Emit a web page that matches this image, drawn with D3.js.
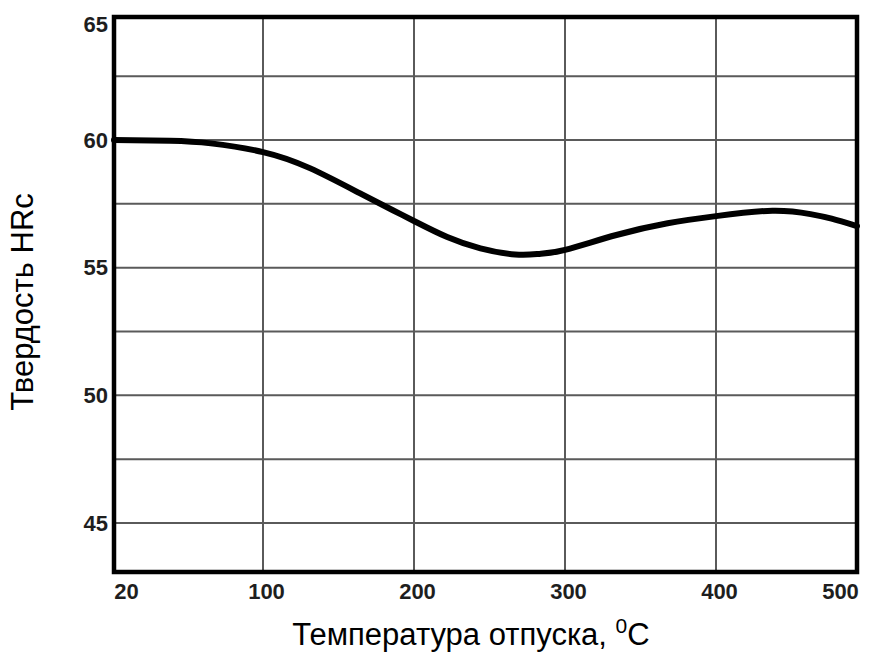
<!DOCTYPE html>
<html>
<head>
<meta charset="utf-8">
<script src="https://cdn.jsdelivr.net/npm/d3@7"></script>
<style>
  body { margin: 0; background: #fff; }
  .tick text { font-family: "Liberation Sans", Arial, sans-serif; font-weight: bold; font-size: 22px; fill: #1e1e1e; }
  .title { font-family: "Liberation Sans", Arial, sans-serif; font-size: 31px; fill: #000; }
</style>
</head>
<body>
<div id="chart"></div>
<script>
// tempering temperature, C
var temps    = [20, 50, 72, 100, 131, 164, 186, 200, 222, 244, 267, 283, 300, 334, 368, 400, 440, 467, 482, 500];
// hardness HRc
var hardness = [60.0, 59.97, 59.87, 59.53, 58.9, 57.92, 57.25, 56.83, 56.2, 55.76, 55.52, 55.54, 55.7, 56.28, 56.74, 57.02, 57.23, 57.1, 56.92, 56.63];

var xTicks = [20, 100, 200, 300, 400, 500];
var xGrid  = [100, 200, 300, 400];
var yTicks = [45, 50, 55, 60, 65];
var yGrid  = [45, 47.5, 50, 52.5, 55, 57.5, 60, 62.5];

var width = 870, height = 652;
var margin = { top: 17, right: 13, bottom: 80, left: 114 };
var w = width - margin.left - margin.right;
var h = height - margin.top - margin.bottom;

var svg = d3.select("#chart").append("svg")
    .attr("width", width)
    .attr("height", height);

var g = svg.append("g")
    .attr("transform", "translate(" + margin.left + "," + margin.top + ")");

// the original axis is not uniform at its ends (20 .. 100 is as wide as 100 .. 200)
var x = d3.scaleLinear()
    .domain([20, 100, 400, 500])
    .range([0, 149, 602, w]);

var y = d3.scaleLinear()
    .domain([43.08, 64.82])
    .range([h, 0]);

// grid
g.selectAll(".hgrid")
    .data(yGrid)
    .enter().append("line")
    .attr("class", "hgrid")
    .attr("x1", 0).attr("x2", w)
    .attr("y1", function(d) { return y(d); })
    .attr("y2", function(d) { return y(d); })
    .attr("stroke", "#5a5a5a")
    .attr("stroke-width", 2);

g.selectAll(".vgrid")
    .data(xGrid)
    .enter().append("line")
    .attr("class", "vgrid")
    .attr("y1", 0).attr("y2", h)
    .attr("x1", function(d) { return x(d); })
    .attr("x2", function(d) { return x(d); })
    .attr("stroke", "#5a5a5a")
    .attr("stroke-width", 2);

// curve
var line = d3.line()
    .x(function(d) { return x(d[0]); })
    .y(function(d) { return y(d[1]); })
    .curve(d3.curveNatural);

g.append("path")
    .datum(d3.zip(temps, hardness))
    .attr("d", line)
    .attr("fill", "none")
    .attr("stroke", "#000")
    .attr("stroke-width", 6)
    .attr("stroke-linecap", "round");

// frame
g.append("rect")
    .attr("width", w).attr("height", h)
    .attr("fill", "none")
    .attr("stroke", "#000")
    .attr("stroke-width", 4.5);

// axes
var xAxis = g.append("g")
    .attr("transform", "translate(0," + h + ")")
    .call(d3.axisBottom(x).tickValues(xTicks).tickSize(0).tickPadding(11));
xAxis.select(".domain").remove();
xAxis.selectAll(".tick text")
    .attr("dx", function(d) { return d === 20 ? 12 : (d === 500 ? -17 : 3); });

var yAxis = g.append("g")
    .call(d3.axisLeft(y).tickValues(yTicks).tickSize(0).tickPadding(6));
yAxis.select(".domain").remove();
yAxis.selectAll(".tick text")
    .attr("dy", function(d) { return d === 65 ? "0.85em" : "0.32em"; });

// titles
svg.append("text")
    .attr("class", "title")
    .attr("x", 471).attr("y", 645)
    .attr("text-anchor", "middle")
    .text("Температура отпуска, ")
    .append("tspan").attr("dy", -12).attr("font-size", 21).text("0")
    .select(function() { return this.parentNode; })
    .append("tspan").attr("dy", 12).text("C");

svg.append("text")
    .attr("class", "title")
    .attr("transform", "translate(33,302) rotate(-90)")
    .attr("text-anchor", "middle")
    .text("Твердость HRc");
</script>
</body>
</html>
